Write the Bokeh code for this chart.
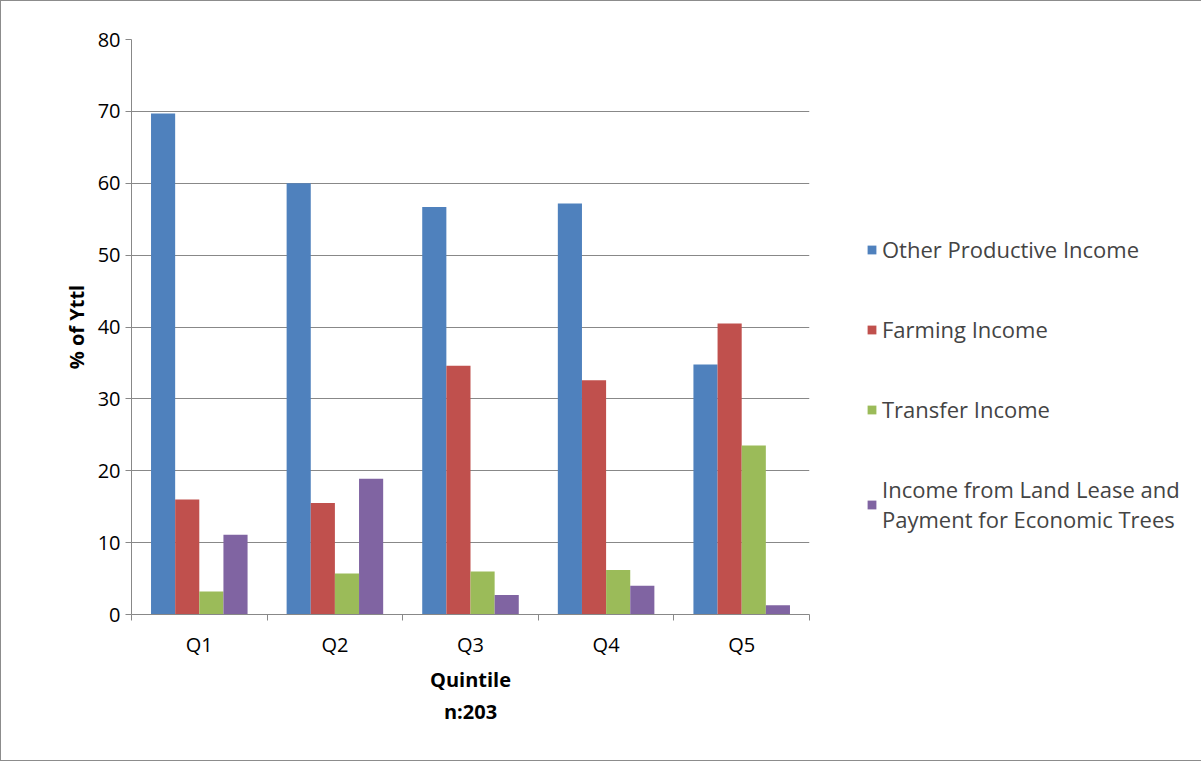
from bokeh.plotting import figure
from bokeh.models import ColumnDataSource, FixedTicker, Legend, LegendItem, Range1d
from bokeh.embed import file_html
from bokeh.resources import INLINE

quintiles = ["Q1", "Q2", "Q3", "Q4", "Q5"]
other_productive = [69.7, 60.0, 56.7, 57.2, 34.8]
farming = [16.0, 15.5, 34.6, 32.6, 40.5]
transfer = [3.2, 5.7, 6.0, 6.2, 23.5]
land_lease = [11.1, 18.9, 2.7, 4.0, 1.3]

series = [
    ("Other Productive Income", other_productive, "#4f81bd"),
    ("Farming Income", farming, "#c0504d"),
    ("Transfer Income", transfer, "#9bbb59"),
    ("Income from Land Lease and\nPayment for Economic Trees", land_lease, "#8064a2"),
]

FONT = "Open Sans"
p = figure(frame_width=678, frame_height=575, output_backend="svg", toolbar_location=None,
           x_range=Range1d(0, 5), y_range=Range1d(0, 80),
           min_border_left=130, min_border_top=38, min_border_right=6, min_border_bottom=146)
p.styles = {"border": "1px solid #8c8c8c"}
p.outline_line_color = None

w = 0.178
items = []
for i, (name, vals, col) in enumerate(series):
    xs = [k + 0.5 + (i - 1.5) * w for k in range(len(quintiles))]
    src = ColumnDataSource(dict(x=xs, top=vals))
    r = p.vbar(x="x", top="top", width=w, bottom=0, source=src, fill_color=col, line_color=None)
    items.append(LegendItem(label=name, renderers=[r]))

legend = Legend(items=items, location=(57, 80), label_text_font=FONT, label_text_font_size="16.5pt",
                glyph_width=11, glyph_height=11, label_height=22, spacing=50,
                border_line_color=None, background_fill_alpha=0, padding=0, margin=0)
p.add_layout(legend, "right")

p.xgrid.grid_line_color = None
p.ygrid.grid_line_color = "#888888"
p.ygrid.grid_line_width = 1

p.xaxis.ticker = FixedTicker(ticks=[k + 0.5 for k in range(5)], minor_ticks=list(range(6)))
p.xaxis.major_label_overrides = {k + 0.5: q for k, q in enumerate(quintiles)}
p.xaxis.major_tick_out = 0
p.xaxis.major_tick_in = 0
p.xaxis.minor_tick_out = 6
p.xaxis.minor_tick_in = 0
p.yaxis.ticker = FixedTicker(ticks=list(range(0, 81, 10)))
p.yaxis.major_tick_out = 6
p.yaxis.major_tick_in = 0
for ax in (p.xaxis, p.yaxis):
    ax.axis_line_color = "#888888"
    ax.major_tick_line_color = "#888888"
    ax.minor_tick_line_color = "#888888"
    ax.major_label_text_font = FONT
    ax.major_label_text_font_size = "15pt"
    ax.major_label_text_color = "black"
    ax.axis_label_text_font = FONT
    ax.axis_label_text_font_style = "bold"
    ax.axis_label_text_font_size = "15pt"
    ax.axis_label_text_color = "black"
p.yaxis.minor_tick_line_color = None
p.xaxis.axis_label = "Quintile\nn:203"
p.yaxis.axis_label = "% of Yttl"
p.xaxis.major_label_standoff = 10

open("out.html", "w").write(file_html(p, INLINE))
